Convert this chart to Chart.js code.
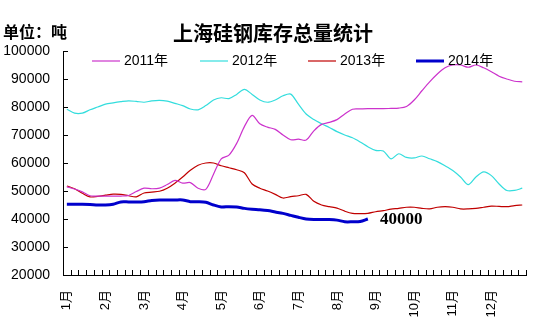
<!DOCTYPE html>
<html>
<head>
<meta charset="utf-8">
<script src="https://cdn.jsdelivr.net/npm/chart.js@4"></script>
<style>
  body { margin: 0; background: #fff; }
</style>
</head>
<body>
<canvas id="chart" width="553" height="324"></canvas>
<script>
const monthLabels = ['1月', '2月', '3月', '4月', '5月', '6月', '7月', '8月', '9月', '10月', '11月', '12月'];
const slotsPerMonth = 5;
const yTicks = [20000, 30000, 40000, 50000, 60000, 70000, 80000, 90000, 100000];
const seriesNames = ['2011年', '2012年', '2013年', '2014年'];

const stock2011 = [51500, 50700, 49700, 48300, 48200, 48200, 48200, 48200, 48400, 49800,
  51000, 50800, 51000, 52300, 53800, 52800, 53000, 51000, 50600, 56000,
  61500, 62800, 67000, 73000, 77000, 74000, 72800, 72000, 70000, 68300,
  68500, 68200, 71500, 73800, 74500, 75500, 77500, 79200, 79300, 79400,
  79400, 79400, 79500, 79600, 80200, 82500, 85800, 89000, 91800, 94000,
  95000, 95000, 94200, 95000, 94000, 92600, 91000, 90000, 89200, 89000];
const stock2012 = [79200, 77800, 77800, 79000, 80000, 81000, 81500, 81900, 82200, 82000,
  81700, 82200, 82400, 82100, 81300, 80500, 79300, 79000, 80500, 82500,
  83300, 83000, 84500, 86300, 84500, 82500, 81700, 82500, 84000, 84600,
  81000, 77500, 75500, 74000, 72700, 71200, 70000, 69000, 67500, 65800,
  64500, 64300, 61500, 63300, 62000, 61800, 62500, 61500, 60500, 59000,
  57300, 55000, 52300, 55000, 56800, 55500, 52500, 50200, 50200, 51000];
const stock2013 = [51800, 50800, 49200, 47900, 48100, 48500, 48900, 48800, 48300, 47900,
  49300, 49600, 49900, 51000, 52800, 55000, 57400, 59200, 60000, 60000,
  59000, 58300, 57600, 56500, 52500, 51000, 50000, 48800, 47500, 48000,
  48300, 48800, 46300, 45000, 44400, 43900, 42800, 42000, 41900, 42000,
  42600, 43000, 43500, 43800, 44200, 44200, 43800, 43600, 44200, 44400,
  44200, 43600, 43600, 43800, 44200, 44600, 44500, 44400, 44800, 45000];
const stock2014 = [45300, 45300, 45300, 45200, 45000, 45000, 45300, 46100, 46100, 46100,
  46200, 46600, 46800, 46800, 46800, 46800, 46200, 46200, 46000, 45000,
  44300, 44400, 44300, 43800, 43500, 43300, 43000, 42500, 42000, 41300,
  40600, 40000, 39800, 39800, 39800, 39600, 39000, 39000, 39100, 40000];

const categories = [];
monthLabels.forEach(m => {
  for (let k = 0; k < slotsPerMonth; k++) categories.push(k === 0 ? m : '');
});

const colors = ['#cc33cc', '#33dddd', '#c00000', '#0000cc'];
const widths = [1.2, 1.2, 1.2, 3];
const allSeries = [stock2011, stock2012, stock2013, stock2014];

const cjk = '"Liberation Sans", "Noto Sans CJK SC", sans-serif';

// ticks inside the plot, title, unit, legend and the last-value label
const extras = {
  id: 'extras',
  afterDraw(chart) {
    const { ctx, chartArea, scales } = chart;
    const x = scales.x, y = scales.y;
    ctx.save();
    ctx.strokeStyle = '#000';
    ctx.lineWidth = 1;
    y.ticks.forEach(t => {
      const py = Math.round(y.getPixelForValue(t.value)) + 0.5;
      ctx.beginPath();
      ctx.moveTo(chartArea.left, py);
      ctx.lineTo(chartArea.left + 5, py);
      ctx.stroke();
    });
    const w = x.getPixelForValue(1) - x.getPixelForValue(0);
    const x0 = x.getPixelForValue(0) - w / 2;
    for (let i = 1; i <= categories.length; i++) {
      const px = Math.round(x0 + i * w) + 0.5;
      ctx.beginPath();
      ctx.moveTo(px, chartArea.bottom);
      ctx.lineTo(px, chartArea.bottom - 5);
      ctx.stroke();
    }

    ctx.fillStyle = '#000';
    ctx.textBaseline = 'middle';
    ctx.font = 'bold 20px "Noto Sans CJK SC", sans-serif';
    ctx.textAlign = 'center';
    ctx.fillText('上海硅钢库存总量统计', 273, 33);
    ctx.font = 'bold 16px "Noto Sans CJK SC", sans-serif';
    ctx.textAlign = 'left';
    ctx.fillText('单位：吨', 3, 32);

    ctx.font = '14px ' + cjk;
    chart.data.datasets.forEach((ds, i) => {
      const lx = 92 + i * 108;
      ctx.strokeStyle = ds.borderColor;
      ctx.lineWidth = ds.borderWidth;
      ctx.beginPath();
      ctx.moveTo(lx, 61);
      ctx.lineTo(lx + 28, 61);
      ctx.stroke();
      ctx.fillStyle = '#000';
      ctx.fillText(ds.label, lx + 32, 61);
    });

    const meta = chart.getDatasetMeta(3);
    const last = meta.data[meta.data.length - 1];
    ctx.font = 'bold 17px "Liberation Serif", serif';
    ctx.fillText(String(stock2014[stock2014.length - 1]), last.x + 12, last.y + 1);
    ctx.restore();
  }
};

new Chart(document.getElementById('chart'), {
  type: 'line',
  data: {
    labels: categories,
    datasets: allSeries.map((d, i) => ({
      label: seriesNames[i],
      data: d,
      borderColor: colors[i],
      borderWidth: widths[i],
      pointRadius: 0,
      tension: 0.3,
      fill: false
    }))
  },
  options: {
    responsive: false,
    animation: false,
    devicePixelRatio: 1,
    layout: { padding: { top: 51, right: 18, left: 0, bottom: 0 } },
    plugins: { legend: { display: false }, tooltip: { enabled: false } },
    scales: {
      x: {
        offset: true,
        grid: { display: false, drawTicks: false },
        border: { display: true, color: '#000', width: 1 },
        ticks: {
          autoSkip: false, maxRotation: 90, minRotation: 90, padding: 15,
          color: '#000', font: { family: cjk, size: 13 }
        },
        afterFit(s) { s.height = 49; }
      },
      y: {
        min: 20000, max: 100000,
        afterBuildTicks(s) { s.ticks = yTicks.map(v => ({ value: v })); },
        grid: { display: false, drawTicks: false },
        border: { display: true, color: '#000', width: 1 },
        ticks: {
          padding: 13, color: '#000', font: { family: cjk, size: 14 },
          callback: v => String(v)
        },
        afterFit(s) { s.width = 63; }
      }
    }
  },
  plugins: [extras]
});
</script>
</body>
</html>
